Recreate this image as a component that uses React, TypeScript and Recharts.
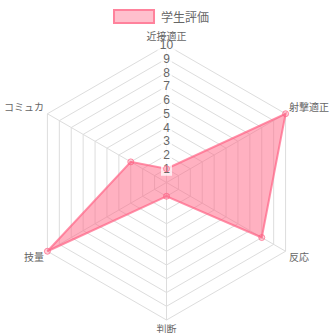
import React from 'react';
import { RadarChart, PolarGrid, PolarAngleAxis, PolarRadiusAxis, Radar } from 'recharts';

// categories, clockwise from the top
const skills = ['近接適正', '射撃適正', '反応', '判断', '技量', 'コミュカ'];
const studentScores = [1, 10, 8, 1, 10, 3];
const scaleDomain: [number, number] = [0, 10];
const seriesName = '学生評価';

const data = skills.map((skill, i) => ({ skill, score: studentScores[i] }));

const CX = 166.5;
const CY = 182.5;
const R = 137.5;
const FONT = "'Liberation Sans', Arial, 'Noto Sans CJK JP', sans-serif";
const PINK = 'rgb(255, 99, 132)';
const PINK_FILL = 'rgba(255, 99, 132, 0.5)';

// point labels placed just outside each vertex, chart.js style
const SkillTick = ({ x, y, payload }: any) => {
  const dx = x - CX;
  const dy = y - CY;
  const len = Math.hypot(dx, dy) || 1;
  const ux = dx / len;
  const uy = dy / len;
  const vx = CX + ux * R;
  const vy = CY + uy * R;
  const side = Math.abs(ux) > 0.1;
  const anchor = !side ? 'middle' : ux > 0 ? 'start' : 'end';
  return (
    <text
      x={vx + ux * 4}
      y={vy + uy * (side ? 12 : 9)}
      textAnchor={anchor}
      dominantBaseline="central"
      fill="#666"
      fontSize={10}
      fontFamily={FONT}
    >
      {payload.value}
    </text>
  );
};

// scale numbers with a white backdrop, zero is skipped
const ScaleTick = ({ x, y, payload }: any) => {
  if (payload.value === 0) return <g />;
  const label = String(payload.value);
  const w = label.length * 7 + 4;
  return (
    <g>
      <rect x={x - w / 2} y={y - 7} width={w} height={14} fill="rgba(255,255,255,0.75)" />
      <text x={x} y={y} textAnchor="middle" dominantBaseline="central" fill="#666" fontSize={12} fontFamily={FONT}>
        {label}
      </text>
    </g>
  );
};

export default function App() {
  return (
    <div style={{ position: 'absolute', left: 0, top: 0, width: 333, height: 333, background: '#fff' }}>
      {/* legend */}
      <div
        style={{
          position: 'absolute',
          top: 8,
          left: 113,
          display: 'flex',
          alignItems: 'center',
          fontFamily: FONT,
          fontSize: 12,
          color: '#666',
        }}
      >
        <div style={{ width: 38, height: 11, background: PINK_FILL, border: `2px solid ${PINK}`, opacity: 0.8 }} />
        <span style={{ marginLeft: 6 }}>{seriesName}</span>
      </div>
      <RadarChart width={333} height={333} cx={CX} cy={CY} outerRadius={R} data={data} margin={{ top: 0, right: 0, bottom: 0, left: 0 }}>
        <PolarGrid gridType="polygon" stroke="#ddd" />
        <PolarRadiusAxis
          angle={90}
          domain={scaleDomain}
          tickCount={11}
          axisLine={false}
          tick={<ScaleTick />}
        />
        <PolarAngleAxis dataKey="skill" axisLine={false} tickLine={false} tick={<SkillTick />} />
        <Radar
          name={seriesName}
          dataKey="score"
          stroke="rgba(255, 99, 132, 0.7)"
          strokeWidth={2}
          fill={PINK}
          fillOpacity={0.5}
          dot={{ r: 3, fill: 'rgba(255, 99, 132, 0.6)', stroke: 'rgba(255, 99, 132, 0.7)', strokeWidth: 1 }}
          isAnimationActive={false}
        />
      </RadarChart>
    </div>
  );
}
